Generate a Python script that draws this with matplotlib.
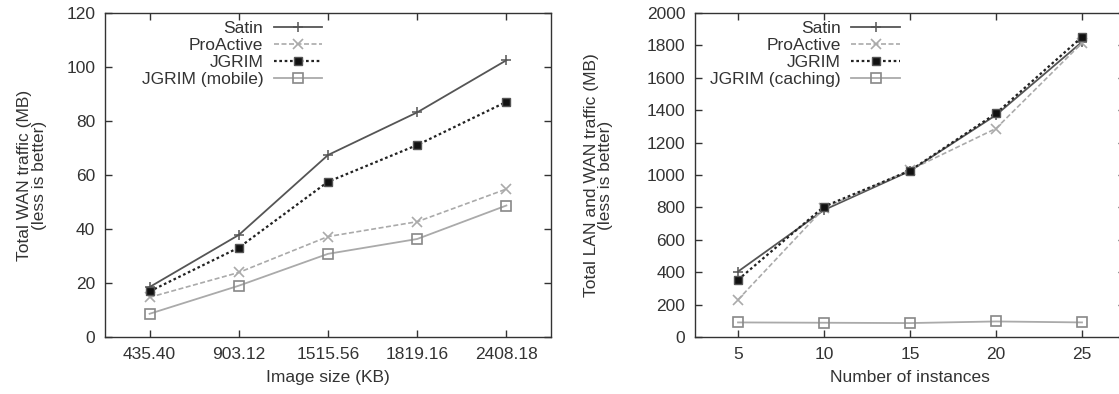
"""Recreate the WAN / LAN+WAN traffic comparison (two gnuplot-style panels)."""

import matplotlib

matplotlib.use("Agg")

import matplotlib.pyplot as plt  # noqa: E402


# left panel: image size vs total WAN traffic
image_sizes = ["435.40", "903.12", "1515.56", "1819.16", "2408.18"]
wan_satin = [18.5, 37.8, 67.4, 83.2, 102.5]
wan_proactive = [14.7, 23.9, 37.2, 42.7, 54.8]
wan_jgrim = [16.9, 33.1, 57.5, 71.1, 87.1]
wan_jgrim_mobile = [8.6, 19.0, 30.8, 36.3, 48.7]

# right panel: number of instances vs total LAN and WAN traffic
instances = [5, 10, 15, 20, 25]
lan_satin = [404, 784, 1025, 1370, 1821]
lan_proactive = [230, 795, 1031, 1287, 1815]
lan_jgrim = [353, 805, 1027, 1380, 1852]
lan_jgrim_caching = [90, 88, 86, 96, 90]

TEXT = "#333333"
W, H = 1119, 394

plt.rcParams["font.family"] = ["Liberation Sans", "DejaVu Sans"]
plt.rcParams["font.size"] = 12.5
plt.rcParams["text.color"] = TEXT
plt.rcParams["axes.labelcolor"] = TEXT
plt.rcParams["xtick.color"] = TEXT
plt.rcParams["ytick.color"] = TEXT

STYLES = [
    dict(color="#555555", linestyle="-", linewidth=1.3, marker="+", markersize=7, markeredgewidth=1.1),
    dict(color="#aaaaaa", linestyle=(0, (3, 1.5)), linewidth=1.2, marker="x", markersize=7, markeredgewidth=1.2),
    dict(color="#222222", linestyle=(0, (1.2, 1.2)), linewidth=1.6, marker="s", markersize=6,
         markerfacecolor="#111111", markeredgecolor="#555555", markeredgewidth=1.0),
    dict(color="#aaaaaa", linestyle="-", linewidth=1.3, marker="s", markersize=7,
         markerfacecolor="none", markeredgecolor="#888888", markeredgewidth=1.2),
]


def px_axes(fig, left, right, top, bottom):
    return fig.add_axes([left / W, 1 - bottom / H, (right - left) / W, (bottom - top) / H])


def style_axes(ax):
    for spine in ax.spines.values():
        spine.set_color(TEXT)
        spine.set_linewidth(1.0)
    ax.tick_params(direction="in", length=5, width=1.0, top=True, right=True, pad=7)


def add_legend(ax, anchor):
    ax.legend(loc="upper right", bbox_to_anchor=anchor, markerfirst=False, frameon=False,
              handlelength=2.8, handletextpad=0.6, labelspacing=0.1, borderaxespad=0,
              borderpad=0)


def main():
    fig = plt.figure(figsize=(W / 100, H / 100), dpi=100)

    ax1 = px_axes(fig, 105, 551, 13, 337)
    xpos = range(1, len(image_sizes) + 1)
    series = [
        ("Satin", wan_satin),
        ("ProActive", wan_proactive),
        ("JGRIM", wan_jgrim),
        ("JGRIM (mobile)", wan_jgrim_mobile),
    ]
    for (label, values), style in zip(series, STYLES):
        ax1.plot(xpos, values, label=label, **style)
    ax1.set_xlim(0.5, 5.5)
    ax1.set_ylim(0, 120)
    ax1.set_xticks(list(xpos), image_sizes)
    ax1.set_yticks(range(0, 121, 20))
    ax1.set_xlabel("Image size (KB)", labelpad=6)
    ax1.set_ylabel("Total WAN traffic (MB)\n(less is better)", labelpad=14, linespacing=0.95)
    style_axes(ax1)
    add_legend(ax1, (0.487, 0.975))

    ax2 = px_axes(fig, 695, 1125, 13, 337)
    series = [
        ("Satin", lan_satin),
        ("ProActive", lan_proactive),
        ("JGRIM", lan_jgrim),
        ("JGRIM (caching)", lan_jgrim_caching),
    ]
    for (label, values), style in zip(series, STYLES):
        ax2.plot(instances, values, label=label, **style)
    ax2.set_xlim(2.5, 27.5)
    ax2.set_ylim(0, 2000)
    ax2.set_xticks(instances)
    ax2.set_yticks(range(0, 2001, 200))
    ax2.set_xlabel("Number of instances", labelpad=6)
    ax2.set_ylabel("Total LAN and WAN traffic (MB)\n(less is better)", labelpad=24, linespacing=0.95)
    style_axes(ax2)
    add_legend(ax2, (0.477, 0.975))

    fig.savefig("out.png", dpi=100)
    plt.close(fig)


if __name__ == "__main__":
    main()
